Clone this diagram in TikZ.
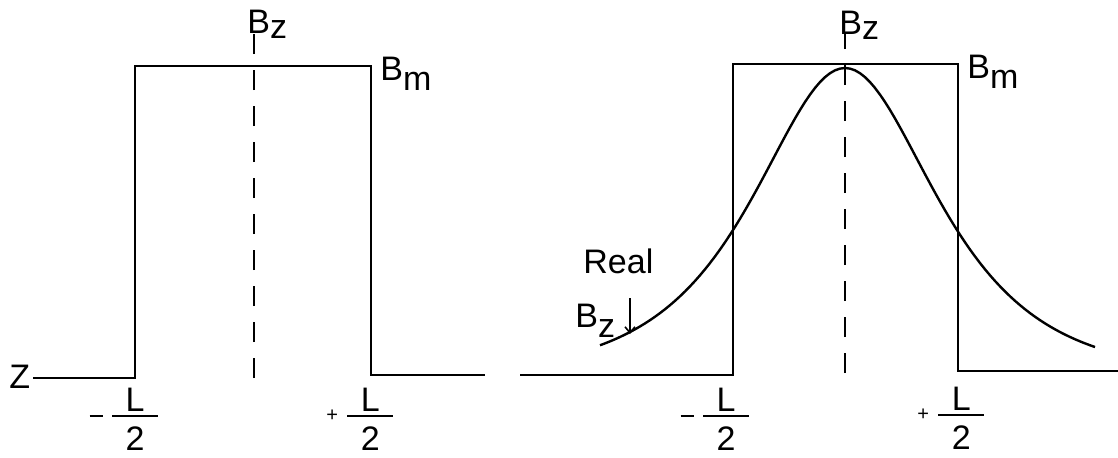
\documentclass[tikz,border=0pt]{standalone}
\usepackage{amsmath}
\usepackage{fontspec}
\setmainfont{Liberation Sans}
\usetikzlibrary{arrows.meta}
\newcommand{\halfL}[1]{$\vcenter{\hbox{#1}}\hspace{3.5pt}\frac{\makebox[23pt]{L}}{\raisebox{0pt}[16pt][0pt]{\makebox[23pt]{2}}}$}

\begin{document}
\begin{tikzpicture}[x=0.5pt, y=-0.5pt, >={Straight Barb[length=3pt,width=5pt]},
    profile/.style={line width=1pt, line join=miter},
    axisdash/.style={line width=1pt, dash pattern=on 10pt off 8pt},
    lbl/.style={inner sep=0pt, font=\fontsize{17}{20}\selectfont}]
    \useasboundingbox (0,0) rectangle (1118,457);
    % ideal (square) field profile
    \coordinate (Zl) at (33,378);
    \coordinate (Al) at (135,378);
    \coordinate (Bl) at (135,66);
    \coordinate (Cl) at (371,66);
    \coordinate (Dl) at (371,375);
    \coordinate (El) at (485,375);
    \draw[profile] (Zl) -- (Al) -- (Bl) -- (Cl) -- (Dl) -- (El);
    \coordinate (Tl) at (254,34);
    \coordinate (Ul) at (254,378);
    \draw[axisdash] (Ul) -- (Tl);
    \node[lbl, anchor=base west] (BzL) at (247,33) {B\raisebox{-2.5pt}{z}};
    \node[lbl, anchor=base west] (BmL) at (380,80) {B\raisebox{-5pt}{m}};
    \node[lbl, anchor=base west] (ZL) at (9,388) {Z};
    \node[lbl] (minusL) at (125,419) {\halfL{\rule{6.5pt}{0.9pt}}};
    \node[lbl] (plusL) at (361,419) {\halfL{\fontsize{10}{10}\selectfont +}};
    % real field compared with the square profile
    \coordinate (Zr) at (520,375);
    \coordinate (Ar) at (733,375);
    \coordinate (Br) at (733,64);
    \coordinate (Cr) at (958,64);
    \coordinate (Dr) at (958,371);
    \coordinate (Er) at (1118,371);
    \draw[profile] (Zr) -- (Ar) -- (Br) -- (Cr) -- (Dr) -- (Er);
    \coordinate (Tr) at (845,34);
    \coordinate (Ur) at (845,373);
    \draw[axisdash] (Ur) -- (Tr);
    \draw[line width=1.2pt] plot[domain=-245:250, samples=100]
        ({845+\x}, {375-614/(exp(\x/81)+exp(-\x/81))});
    \node[lbl, anchor=base west] (BzR) at (839,34) {B\raisebox{-2.5pt}{z}};
    \node[lbl, anchor=base west] (BmR) at (967,78) {B\raisebox{-5pt}{m}};
    \node[lbl, anchor=base west] (real) at (583,273) {Real};
    \node[lbl, anchor=base west] (BzReal) at (575,327) {B\raisebox{-5pt}{z}};
    \coordinate (arrTop) at (630,298);
    \coordinate (arrTip) at (630,334);
    \draw[->, line width=0.8pt] (arrTop) -- (arrTip);
    \node[lbl] (minusR) at (716,419) {\halfL{\rule{6.5pt}{0.9pt}}};
    \node[lbl] (plusR) at (952,418) {\halfL{\fontsize{10}{10}\selectfont +}};
\end{tikzpicture}
\end{document}
